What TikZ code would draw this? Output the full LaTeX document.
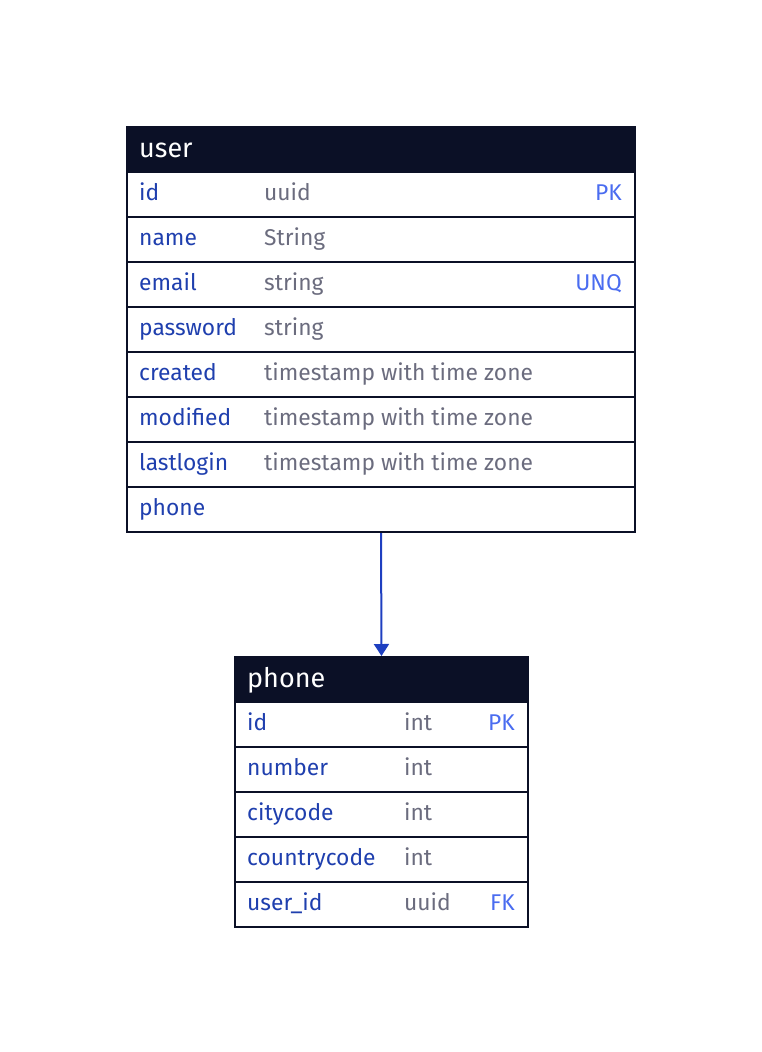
\documentclass[tikz,border=0pt]{standalone}
\usepackage{fontspec}
\setmainfont{Fira Sans}
\usetikzlibrary{arrows.meta}
\definecolor{hdrfill}{HTML}{0B1026}
\definecolor{tblline}{HTML}{0B1026}
\definecolor{namecol}{HTML}{1F3FAE}
\definecolor{typecol}{HTML}{6B6C7E}
\definecolor{keycol}{HTML}{4A6CF0}
\definecolor{linkcol}{HTML}{1E3FC0}
\begin{document}
\begin{tikzpicture}[
                x=1pt, y=-1pt,
                tbl/.style={rectangle, draw=tblline, line width=2pt, inner sep=0pt, minimum height=45pt, anchor=north west},
                hdr/.style={tbl, fill=hdrfill},
                title/.style={anchor=base west, inner sep=0pt, text=white, font=\fontsize{27}{27}\selectfont},
                fname/.style={anchor=base west, inner sep=0pt, text=namecol, font=\fontsize{22.8}{22.8}\selectfont},
                ftype/.style={fname, text=typecol},
                fkey/.style={anchor=base east, inner sep=0pt, text=keycol, font=\fontsize{22.8}{22.8}\selectfont}
                ]
                \useasboundingbox (0,0) rectangle (761,1052);
                % user table
                \node[hdr, minimum width=508pt] (user) at (126,126) {};
                \node[title] (userT) at (139,157) {user};
                \foreach \nm/\ty/\k [count=\i] in {id/uuid/PK, name/String/{}, email/string/UNQ,
                    password/string/{}, created/timestamp with time zone/{},
                    modified/timestamp with time zone/{}, lastlogin/timestamp with time zone/{}, phone/{}/{}}
                {
                    \node[tbl, minimum width=508pt] (user\i) at (126,126+45*\i) {};
                    \node[fname] (user\i n) at (139,155+45*\i) {\nm};
                    \node[ftype] (user\i t) at (264,155+45*\i) {\ty};
                    \node[fkey] (user\i k) at (622,155+45*\i) {\k};
                }
                % phone table
                \node[hdr, minimum width=293pt] (phone) at (234,656) {};
                \node[title] (phoneT) at (247,687) {phone};
                \foreach \nm/\ty/\k [count=\i] in {id/int/PK, number/int/{}, citycode/int/{},
                    countrycode/int/{}, user\_id/uuid/FK}
                {
                    \node[tbl, minimum width=293pt] (phone\i) at (234,656+45*\i) {};
                    \node[fname] (phone\i n) at (247,685+45*\i) {\nm};
                    \node[ftype] (phone\i t) at (404,685+45*\i) {\ty};
                    \node[fkey] (phone\i k) at (515,685+45*\i) {\k};
                }
                % relation
                \draw[linkcol, line width=2pt, -{Triangle[length=12pt,width=15pt]}] (user8.south) -- (phone.north);
            \end{tikzpicture}
\end{document}
